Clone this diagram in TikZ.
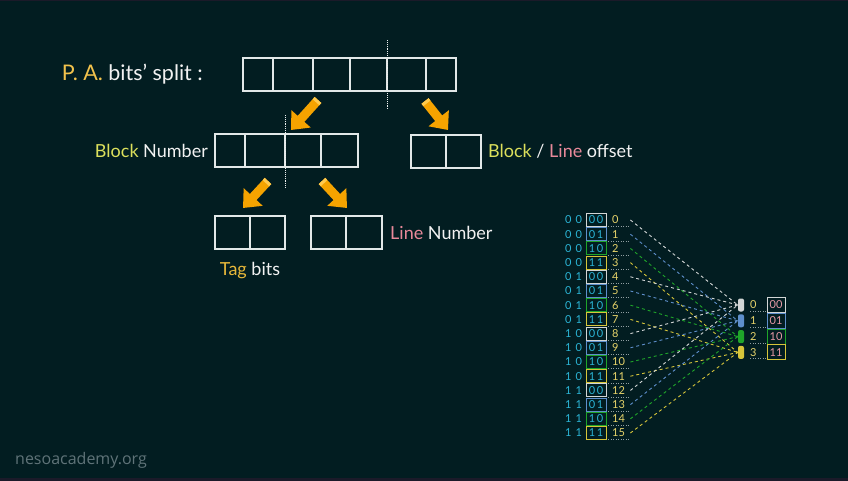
\documentclass[tikz,border=0pt]{standalone}
\usepackage{fontspec}
\setmainfont{Lato}
\newfontfamily\webfont{Open Sans}
\usepackage{xcolor}
\definecolor{bg}{HTML}{021D21}
\definecolor{band}{HTML}{1B1A29}
\definecolor{ink}{HTML}{F2F2F2}
\definecolor{boxline}{HTML}{E2E8E8}
\definecolor{pa}{HTML}{F2C24C}
\definecolor{blk}{HTML}{DCE05C}
\definecolor{tag}{HTML}{E8B83A}
\definecolor{line}{HTML}{E8899A}
\definecolor{arrow}{HTML}{F5A300}
\definecolor{arrowlight}{HTML}{FFC94D}
\definecolor{digit}{HTML}{2BB5D6}
\definecolor{numyel}{HTML}{E6D36A}
\definecolor{pink}{HTML}{E89AA6}
\definecolor{web}{HTML}{5F7378}
\definecolor{k0}{HTML}{D2D6D6}
\definecolor{k1}{HTML}{5E8FCB}
\definecolor{k2}{HTML}{1FA52A}
\definecolor{k3}{HTML}{D6C53A}
\usepackage{tikz}
\usetikzlibrary{positioning,calc,arrows.meta}

\begin{document}
\begin{tikzpicture}[x=1pt,y=-1pt,
  cell/.style={draw=boxline,line width=1.3pt,minimum width=#1,minimum height=33pt,inner sep=0pt,outer sep=0pt},
  lbl/.style={inner sep=0pt,text=ink,font=\fontsize{18}{21}\selectfont},
  bigarrow/.style={draw=arrow,line width=9pt,-{Triangle[length=15pt,width=25pt]}},
  split/.style={draw=boxline!60,densely dotted,line width=0.9pt},
  bitbox/.style={draw=#1,line width=1pt,minimum width=20pt,minimum height=13pt,inner sep=0pt,text=digit,font=\fontsize{11}{11}\selectfont},
  bits/.style={inner sep=0pt,text=digit,font=\fontsize{11}{11}\selectfont},
  num/.style={anchor=west,text width=16pt,inner sep=0pt,text=numyel,font=\fontsize{11}{11}\selectfont},
  gridline/.style={draw=web!70,dotted,line width=0.5pt},
  wire/.style={draw=#1,dashed,line width=0.9pt},
  plug/.style={fill=#1,rounded corners=2pt,minimum width=6pt,minimum height=13pt,inner sep=0pt},
  linebox/.style={draw=#1,line width=1pt,minimum width=18pt,minimum height=15pt,inner sep=0pt,text=pink,font=\fontsize{11}{11}\selectfont}]
  \fill[bg] (0,0) rectangle (848,481);
  \useasboundingbox (0,0) rectangle (848,481);
  \fill[band] (0,477.5) rectangle (848,481);
  \fill[band] (0,0) rectangle (848,1);

  % address register
  \node[cell=30,anchor=north west] (pa1) at (243,58) {};
  \foreach \w [count=\i from 2] in {40,37,37,39,30}{
    \pgfmathtruncatemacro\j{\i-1}
    \node[cell=\w,right=0pt of pa\j] (pa\i) {};
  }
  \node[lbl,left=40pt of pa1,font=\fontsize{21.5}{24}\selectfont] (patext) {\textcolor{pa}{P. A.} bits’ split :};
  \draw[split] ([yshift=18pt]pa4.north east) -- ([yshift=-19pt]pa4.south east);

  \node[cell=30,anchor=north west] (bn1) at (215,134) {};
  \foreach \w [count=\i from 2] in {40,36,37}{
    \pgfmathtruncatemacro\j{\i-1}
    \node[cell=\w,right=0pt of bn\j] (bn\i) {};
  }
  \node[lbl,left=7pt of bn1] (bntext) {\textcolor{blk}{Block} Number};
  \draw[split] ([yshift=19pt]bn2.north east) -- ([yshift=-22pt]bn2.south east);

  \node[cell=35,anchor=north west] (off1) at (411,135) {};
  \node[cell=35,right=0pt of off1] (off2) {};
  \node[lbl,right=7pt of off2] (offtext) {\textcolor{blk}{Block} / \textcolor{line}{Line} offset};

  \node[cell=35,anchor=north west] (tag1) at (215,216) {};
  \node[cell=35,right=0pt of tag1] (tag2) {};
  \node[lbl,below=13pt of tag1.south east] (tagtext) {\textcolor{tag}{Tag} bits};

  \node[cell=35,anchor=north west] (ln1) at (311,216) {};
  \node[cell=36,right=0pt of ln1] (ln2) {};
  \node[lbl,right=8pt of ln2] (lntext) {\textcolor{line}{Line} Number};

  \coordinate (a1t) at (318,100); \coordinate (a1h) at (291,130);
  \coordinate (a2t) at (425,101); \coordinate (a2h) at (448,130);
  \coordinate (a3t) at (268,181); \coordinate (a3h) at (243,208);
  \coordinate (a4t) at (322,181); \coordinate (a4h) at (347,208);
  \foreach \k in {1,2,3,4}{
    \draw[bigarrow] (a\k t) -- (a\k h);
    \draw[draw=arrowlight,line width=9pt] (a\k t) -- ($(a\k t)!3pt!(a\k h)$);
  }

  % mapping of memory blocks onto cache lines
  \foreach \j in {0,...,3}{
    \pgfmathsetmacro\y{305+15.8*\j}
    \pgfmathtruncatemacro\u{\j/2}
    \pgfmathtruncatemacro\v{mod(\j,2)}
    \node[plug=k\j] (p\j) at (741,\y) {};
    \node[num,text width=8pt] (q\j) at (750,\y) {\j};
    \node[linebox=k\j] (r\j) at (776,\y) {\u\v};
    \draw[gridline] ([yshift=-2pt]q\j.south west) -- ([yshift=-2pt]q\j.south west -| r\j.west);
  }
  \foreach \i in {0,...,15}{
    \pgfmathtruncatemacro\m{mod(\i,4)}
    \pgfmathtruncatemacro\a{\i/8}
    \pgfmathtruncatemacro\b{mod(\i/4,2)}
    \pgfmathtruncatemacro\c{mod(\i/2,2)}
    \pgfmathtruncatemacro\d{mod(\i,2)}
    \pgfmathsetmacro\y{220+14.2*\i}
    \node[bits] (d\i) at (573.5,\y) {\a\hspace{4pt}\b};
    \node[bitbox=k\m] (b\i) at (596,\y) {\c\hspace{1.5pt}\d};
    \node[num] (n\i) at (612,\y) {\i};
    \draw[gridline] ([xshift=-4pt,yshift=-2.5pt]n\i.south west) -- ([yshift=-2.5pt]n\i.south east);
    \draw[wire=k\m] ([xshift=2pt]n\i.east) -- (p\m.west);
  }

  \node[inner sep=0pt,text=web,font=\webfont\fontsize{16}{18}\selectfont,anchor=west] (site) at (15,460) {nesoacademy.org};
\end{tikzpicture}
\end{document}
